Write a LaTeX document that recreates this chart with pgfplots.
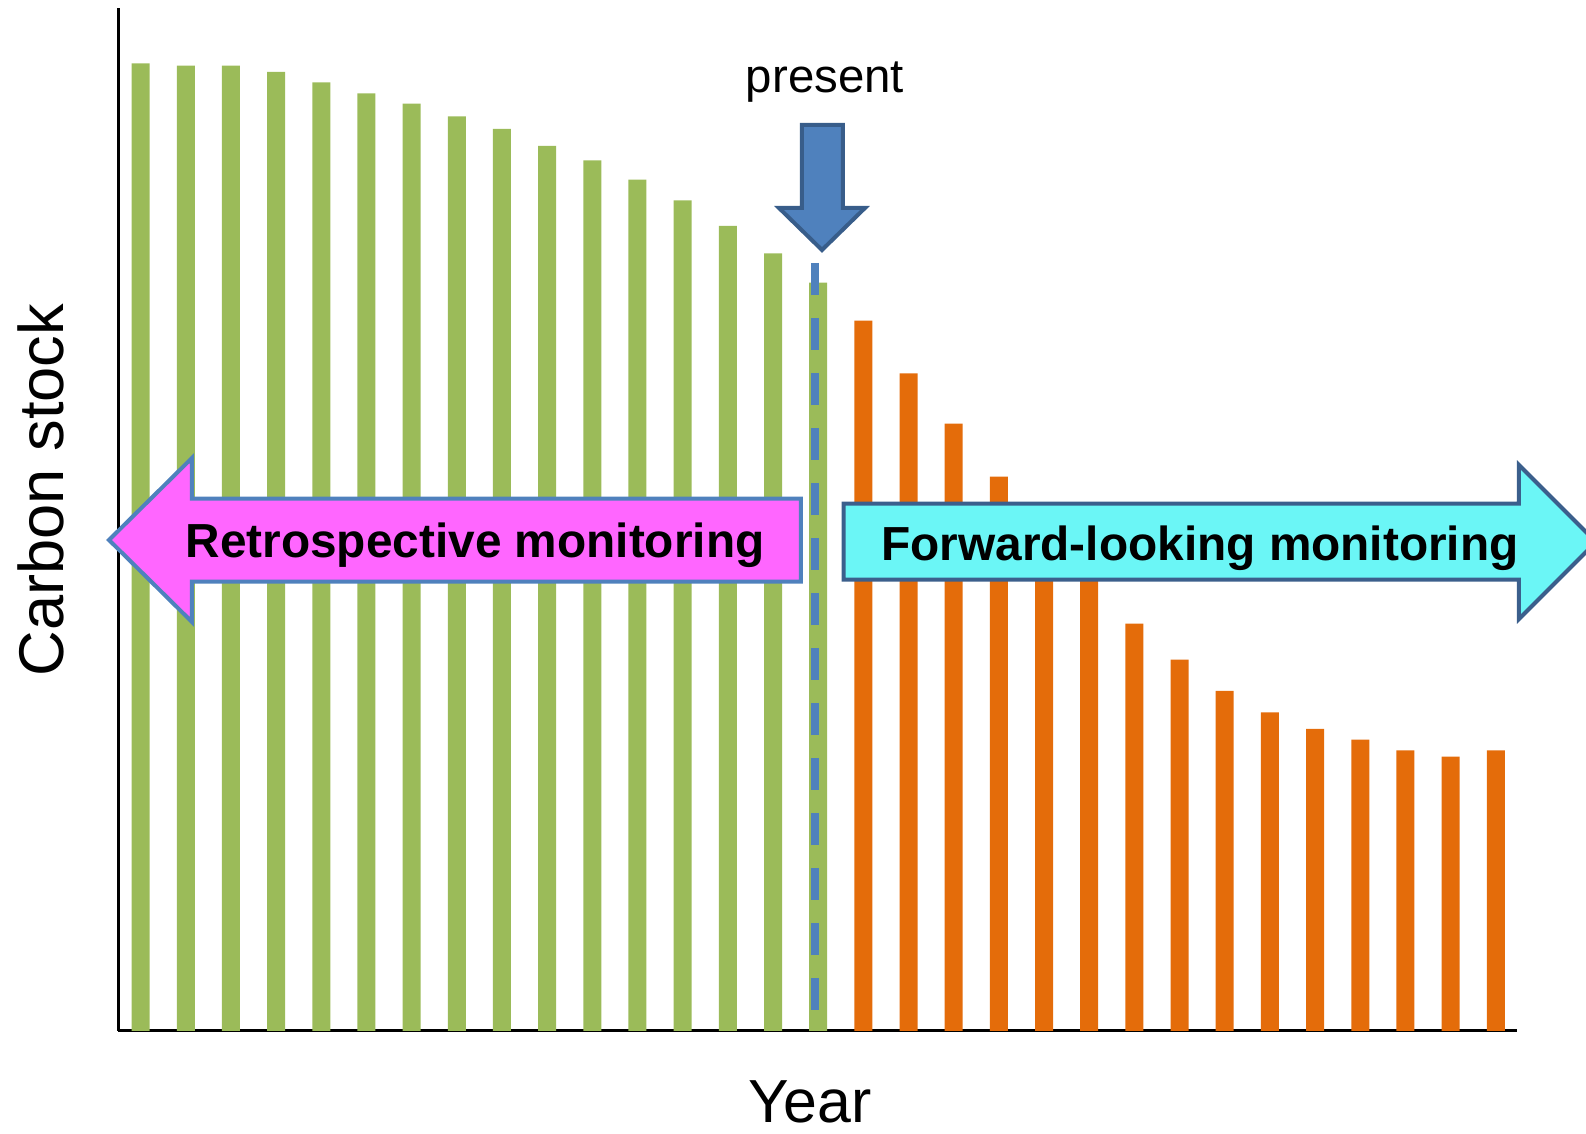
\documentclass[border=0pt]{standalone}
\usepackage{fontspec}
\setmainfont{Liberation Sans}
\usepackage{pgfplots}
\usepackage{pgfplotstable}
\pgfplotsset{compat=1.18}
\definecolor{barGreen}{HTML}{9BBB59}
\definecolor{barOrange}{HTML}{E46C0A}
\definecolor{pinkFill}{HTML}{FF66FF}
\definecolor{pinkEdge}{HTML}{4F81BD}
\definecolor{cyanFill}{HTML}{6BF6F6}
\definecolor{cyanEdge}{HTML}{3B5F8C}
\definecolor{presFill}{HTML}{4F81BD}
\definecolor{presEdge}{HTML}{385D8A}
\definecolor{dashBlue}{HTML}{4F81BD}

\pgfplotstableread{
i v
0 967.7
1 965.3
2 965.3
3 959
4 948.7
5 937.7
6 927.3
7 914.7
8 902
9 885
10 870.5
11 851.3
12 830.7
13 805
14 777.7
15 748.3
}\greentab

\pgfplotstableread{
i v
16 710.3
17 657.7
18 607.3
19 554.3
20 505
21 455
22 407.3
23 371.3
24 340
25 318.7
26 302
27 291.3
28 280.7
29 274.3
30 280.7
}\orangetab

\begin{document}
\begin{tikzpicture}
\useasboundingbox (0,0) rectangle (793bp,567bp);
\begin{axis}[
  at={(59bp,51.5bp)}, anchor=south west,
  scale only axis, width=699.5bp, height=511.5bp,
  xmin=-0.5, xmax=30.47, ymin=0, ymax=1023,
  axis lines*=left,
  axis line style={line width=1.5bp, black},
  ticks=none,
  clip=false,
]
\addplot[ybar, bar shift=0pt, bar width=9bp, fill=barGreen, draw=none] table[x=i,y=v]{\greentab};
\addplot[ybar, bar shift=0pt, bar width=9bp, fill=barOrange, draw=none] table[x=i,y=v]{\orangetab};
\end{axis}
\begin{scope}[yshift=567bp, x=0.5bp, y=-0.5bp]
  % present dashed line
  \draw[dashBlue, line width=4bp, dash pattern=on 16bp off 11.5bp] (815,263) -- (815,1022);
  % retrospective arrow
  \draw[pinkEdge, line width=2bp, fill=pinkFill, line join=miter]
    (109,540) -- (192,458) -- (192,498.6) -- (801,498.6) -- (801,581.6) -- (192,581.6) -- (192,622) -- cycle;
  % forward arrow
  \draw[cyanEdge, line width=2bp, fill=cyanFill, line join=miter]
    (843.6,503.7) -- (1519,503.7) -- (1519,465) -- (1596,542) -- (1519,619) -- (1519,579.6) -- (843.6,579.6) -- cycle;
  % present arrow
  \draw[presEdge, line width=2bp, fill=presFill, line join=miter]
    (802,125) -- (843,125) -- (843,208) -- (865,208) -- (822,250) -- (779,208) -- (802,208) -- cycle;
  % texts
  \node[anchor=base, inner sep=0pt, font=\fontsize{23.9bp}{28bp}\selectfont\bfseries] at (475,558) {Retrospective monitoring};
  \node[anchor=base, inner sep=0pt, font=\fontsize{23.9bp}{28bp}\selectfont\bfseries] at (1200,561) {Forward-looking monitoring};
  \node[anchor=base, inner sep=0pt, font=\fontsize{23.7bp}{28bp}\selectfont] at (825,93) {present};
  \node[anchor=base, inner sep=0pt, font=\fontsize{30.4bp}{36bp}\selectfont] at (810,1123) {Year};
  \node[anchor=base, inner sep=0pt, rotate=90, font=\fontsize{31.6bp}{36bp}\selectfont] at (63,490) {Carbon stock};
\end{scope}
\end{tikzpicture}
\end{document}
